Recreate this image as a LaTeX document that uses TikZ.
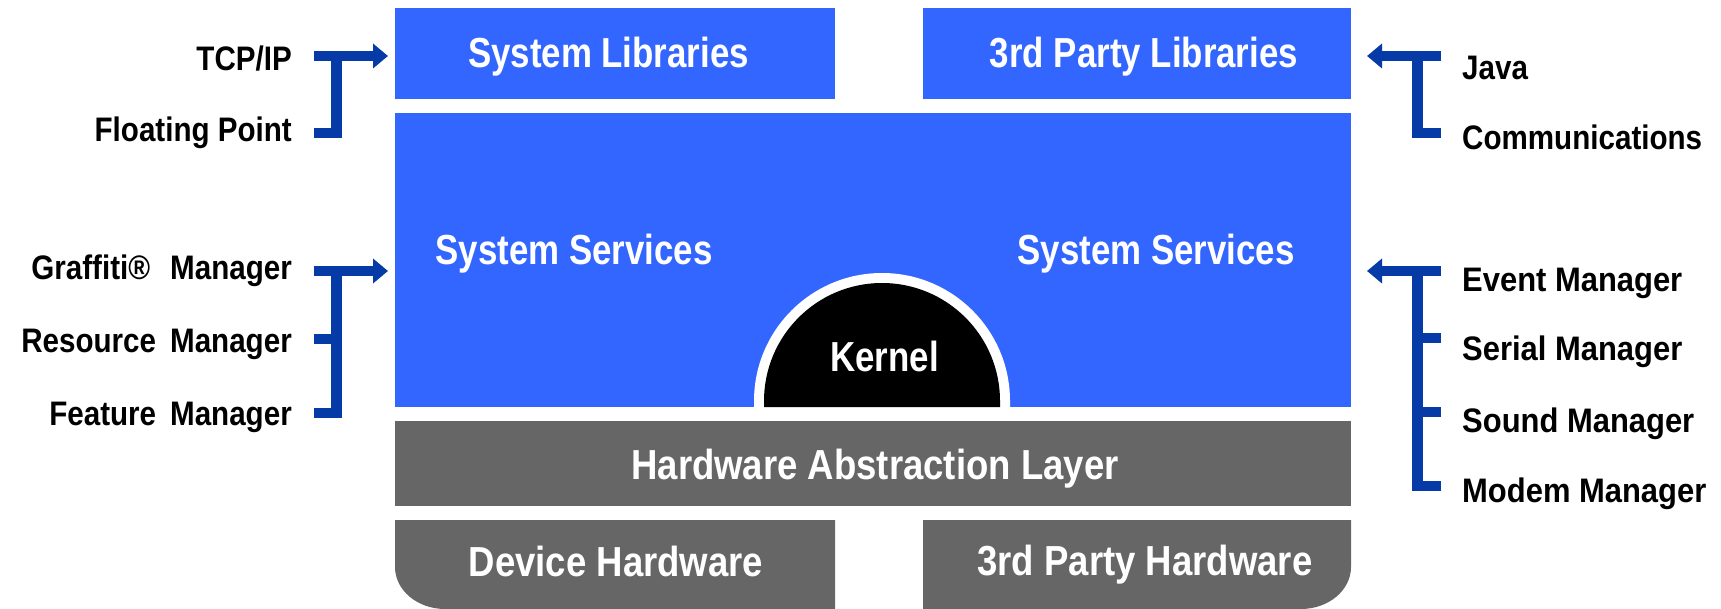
\documentclass[tikz,border=0pt]{standalone}
\usepackage{fontspec}
\usetikzlibrary{arrows.meta}
\newfontfamily\boxfont[FakeStretch=0.83]{Liberation Sans}
\newfontfamily\boxfontwide[FakeStretch=0.87]{Liberation Sans}
\newfontfamily\sidefont[FakeStretch=0.87]{Liberation Sans}
\newfontfamily\sidefontwide[FakeStretch=0.91]{Liberation Sans}
\definecolor{layerblue}{HTML}{3366FF}
\definecolor{layergray}{HTML}{666666}
\definecolor{linkblue}{HTML}{063AA6}
\tikzset{
  layer/.style={rectangle, inner sep=0pt, outer sep=0pt, fill=#1, draw=none},
  boxtext/.style={text=white, inner sep=0pt, anchor=base,
    font=\boxfont\bfseries\fontsize{42}{48}\selectfont},
  boxtextw/.style={boxtext, font=\boxfontwide\bfseries\fontsize{42}{48}\selectfont},
  sidel/.style={text=black, inner sep=0pt, anchor=base east,
    font=\sidefont\bfseries\fontsize{34}{40}\selectfont},
  sider/.style={text=black, inner sep=0pt, anchor=base west,
    font=\sidefont\bfseries\fontsize{34}{40}\selectfont},
  siderw/.style={sider, font=\sidefontwide\bfseries\fontsize{34}{40}\selectfont},
  conn/.style={draw=linkblue, line width=10.5pt, line join=miter},
  feed/.style={conn, -{Triangle[length=15pt,width=24pt]}},
}
\begin{document}
\begin{tikzpicture}[x=1pt, y=-1pt]
\useasboundingbox (0,0) rectangle (1721,609);

% upper layers
\node[layer=layerblue, minimum width=440pt, minimum height=91pt] (syslib) at (615,53.5) {};
\node[layer=layerblue, minimum width=428pt, minimum height=91pt] (tplib) at (1137,53.5) {};
\node[layer=layerblue, minimum width=956pt, minimum height=294pt] (services) at (873,260) {};

% kernel dome with its white rim
\fill[white] (754,407) -- (754,401) arc[start angle=180, end angle=0, radius=128pt] -- (1010,407) -- cycle;
\fill[black] (764,407) -- (764,401) arc[start angle=180, end angle=0, radius=118pt] -- (1000,407) -- cycle;

% lower layers
\node[layer=layergray, minimum width=956pt, minimum height=85pt] (hal) at (873,463.5) {};
\fill[layergray] (395,520) -- (835,520) -- (835,609) -- (445,609)
  .. controls (417.4,609) and (395,590.2) .. (395,567) -- cycle;
\fill[layergray] (923,520) -- (1351,520) -- (1351,567)
  .. controls (1351,590.2) and (1328.6,609) .. (1301,609) -- (923,609) -- cycle;

% layer labels
\node[boxtext] (syslibT) at (608.5,67.5) {System Libraries};
\node[boxtext] (tplibT) at (1144,67.5) {3rd Party Libraries};
\node[boxtext] (servL) at (574,265) {System Services};
\node[boxtext] (servR) at (1156,265) {System Services};
\node[boxtext] (kernel) at (884.5,372) {Kernel};
\node[boxtextw] (halT) at (875,479) {Hardware Abstraction Layer};
\node[boxtextw] (devhw) at (616,576) {Device Hardware};
\node[boxtextw] (tphw) at (1145,575) {3rd Party Hardware};

% left-hand feeds
\node[sidel] (tcp) at (292,71) {TCP/IP};
\node[sidel] (fpoint) at (292,142) {Floating Point};
\node[sidel] (graffiti) at (292,280) {Graffiti®\hspace{20pt}Manager};
\node[sidel] (resource) at (292,353) {Resource\hspace{14pt}Manager};
\node[sidel] (feature) at (292,425) {Feature\hspace{14pt}Manager};

% right-hand feeds
\node[sider] (java) at (1462,80) {Java};
\node[sider] (comms) at (1462,150) {Communications};
\node[siderw] (event) at (1462,292) {Event Manager};
\node[siderw] (serial) at (1462,361) {Serial Manager};
\node[siderw] (sound) at (1462,432) {Sound Manager};
\node[siderw] (modem) at (1462,502) {Modem Manager};

% connector end points
\coordinate (tcpE) at (314,56);
\coordinate (fpE) at (314,133);
\coordinate (libBarL) at (336.5,56);
\coordinate (grafE) at (314,271);
\coordinate (resE) at (314,339);
\coordinate (featE) at (314,413);
\coordinate (svcBarL) at (336.5,271);
\coordinate (javaW) at (1441,56);
\coordinate (commW) at (1441,133);
\coordinate (libBarR) at (1417.5,56);
\coordinate (eventW) at (1441,271);
\coordinate (serialW) at (1441,338);
\coordinate (soundW) at (1441,412);
\coordinate (modemW) at (1441,486);
\coordinate (svcBarR) at (1417.5,271);

% brackets into the library layer
\draw[conn] (fpE) -| (libBarL);
\draw[feed, shorten >=7pt] (tcpE) -- (tcpE -| syslib.west);
\draw[conn] (commW) -| (libBarR);
\draw[feed, shorten >=16pt] (javaW) -- (javaW -| tplib.east);

% brackets into the services layer
\draw[conn] (featE) -| (svcBarL);
\draw[conn] (resE) -- (resE -| svcBarL);
\draw[feed, shorten >=7pt] (grafE) -- (grafE -| services.west);
\draw[conn] (modemW) -| (svcBarR);
\draw[conn] (serialW) -- (serialW -| svcBarR);
\draw[conn] (soundW) -- (soundW -| svcBarR);
\draw[feed, shorten >=16pt] (eventW) -- (eventW -| services.east);
\end{tikzpicture}
\end{document}
